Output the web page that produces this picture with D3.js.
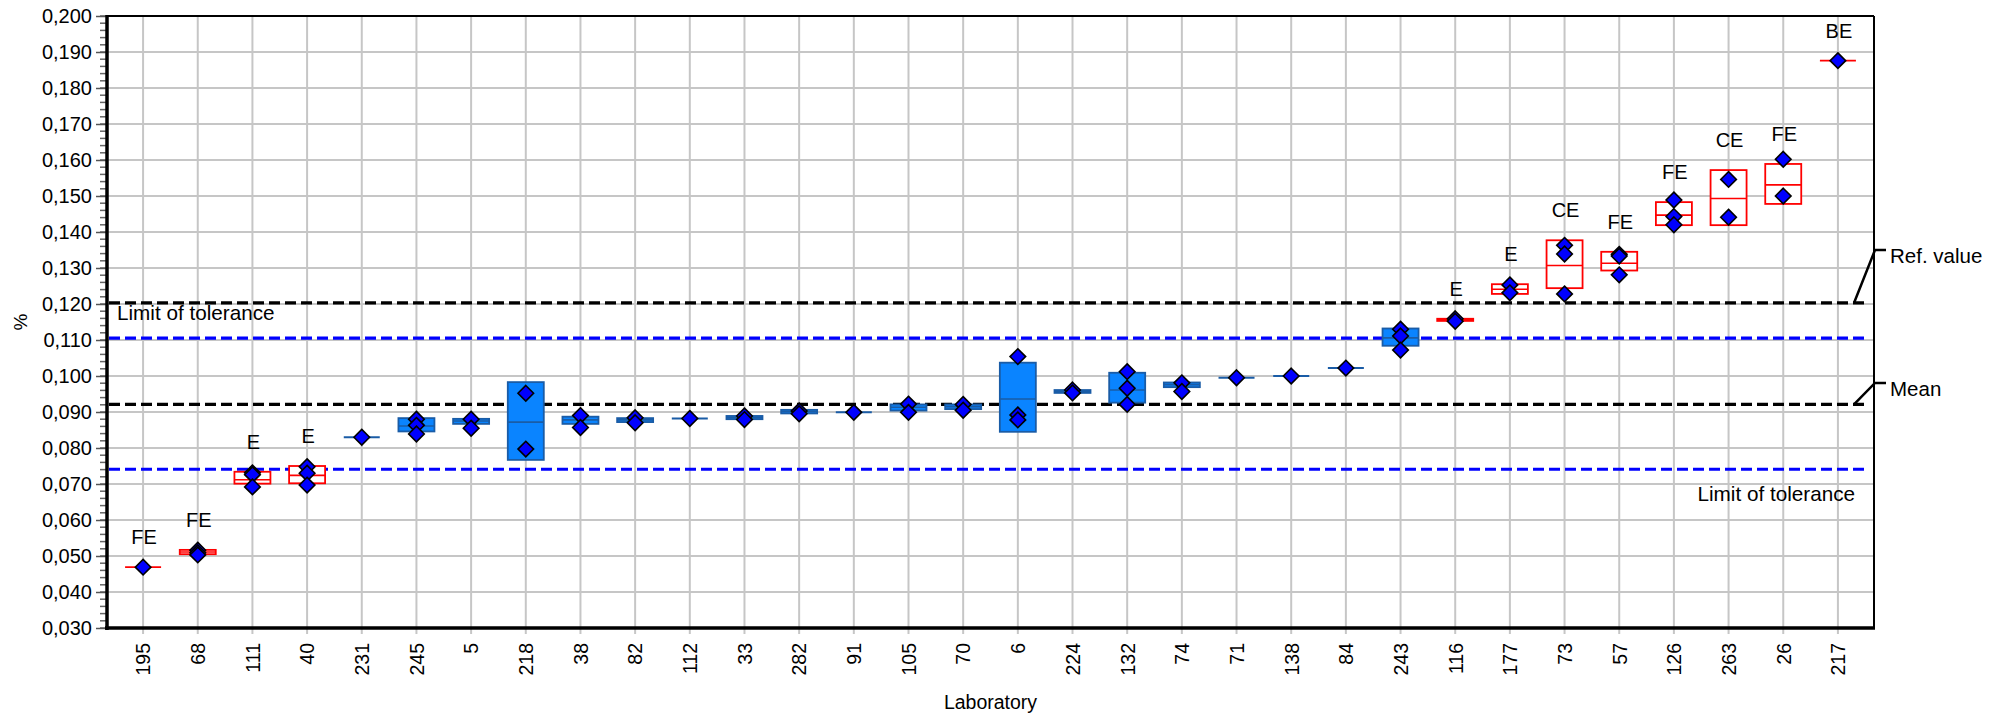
<!DOCTYPE html>
<html>
<head>
<meta charset="utf-8">
<script src="https://cdn.jsdelivr.net/npm/d3@7/dist/d3.min.js"></script>
<style>
  html, body { margin: 0; padding: 0; background: #fff; }
  svg text { font-family: "Liberation Sans", Arial, sans-serif; fill: #000; }
</style>
</head>
<body>
<svg id="chart" width="2006" height="714"></svg>
<script>
// ---------------- data ----------------
const labs = ["195","68","111","40","231","245","5","218","38","82","112","33","282","91","105","70","6","224","132","74","71","138","84","243","116","177","73","57","126","263","26","217"];
const flags = ["FE","FE","E","E","","","","","","","","","","","","","","","","","","","","","E","E","CE","FE","FE","CE","FE","BE"];
const values = [
  [0.0469],
  [0.0516,0.0509,0.0503],
  [0.0731,0.0726,0.0692],
  [0.0748,0.0730,0.0697],
  [0.0830],
  [0.0880,0.0863,0.0839],
  [0.0880,0.0855],
  [0.0952,0.0797],
  [0.0890,0.0857],
  [0.0884,0.0870],
  [0.0882],
  [0.0889,0.0879],
  [0.0903,0.0895],
  [0.0899],
  [0.0922,0.0899],
  [0.0921,0.0905],
  [0.1054,0.0892,0.0878],
  [0.0961,0.0953],
  [0.1012,0.0966,0.0921],
  [0.0981,0.0957],
  [0.0995],
  [0.1000],
  [0.1022],
  [0.1130,0.1111,0.1072],
  [0.1159,0.1152],
  [0.1253,0.1231],
  [0.1363,0.1339,0.1228],
  [0.1338,0.1333,0.1281],
  [0.1489,0.1443,0.1420],
  [0.1546,0.1441],
  [0.1602,0.1500],
  [0.1876]
];
const boxLow  = [0.0469,0.0505,0.0701,0.0702,0.0830,0.0846,0.0867,0.0767,0.0867,0.0872,0.0882,0.0880,0.0896,0.0899,0.0904,0.0908,0.0845,0.0953,0.0926,0.0969,0.0995,0.1000,0.1022,0.1084,0.1153,0.1228,0.1244,0.1293,0.1419,0.1419,0.1478,0.1876];
const boxHigh = [0.0469,0.0517,0.0734,0.0750,0.0830,0.0883,0.0881,0.0983,0.0887,0.0883,0.0882,0.0889,0.0906,0.0899,0.0921,0.0921,0.1037,0.0961,0.1009,0.0982,0.0995,0.1000,0.1022,0.1132,0.1159,0.1255,0.1377,0.1345,0.1483,0.1572,0.1589,0.1876];
const boxMid  = [0.0469,0.0511,0.0712,0.0724,0.0830,0.0861,0.0875,0.0872,0.0878,0.0878,0.0882,0.0884,0.0901,0.0899,0.0913,0.0915,0.0936,0.0957,0.0961,0.0976,0.0995,0.1000,0.1022,0.1106,0.1156,0.1241,0.1307,0.1313,0.1447,0.1493,0.1531,0.1876];

const refValue = 0.1203;
const meanValue = 0.0921;
const tolHigh = 0.1105;
const tolLow = 0.0741;

const yTicks = [0.030,0.040,0.050,0.060,0.070,0.080,0.090,0.100,0.110,0.120,0.130,0.140,0.150,0.160,0.170,0.180,0.190,0.200];

// ---------------- layout ----------------
const svg = d3.select("#chart");
const L = 107, R = 1874, T = 16, B = 628;

const x = d3.scalePoint().domain(labs).range([L, R]).padding(0.66);
const y = d3.scaleLinear().domain([0.030, 0.200]).range([B, T]);
const fmt = v => d3.format(".3f")(v).replace(".", ",");

svg.append("rect").attr("width", 2006).attr("height", 714).attr("fill", "#fff");

// grid
const grid = svg.append("g");
grid.selectAll("line.h").data(yTicks).join("line")
  .attr("x1", L).attr("x2", R).attr("y1", d => y(d)).attr("y2", d => y(d))
  .attr("stroke", "#c6c6c6").attr("stroke-width", 2);
grid.selectAll("line.v").data(labs).join("line")
  .attr("x1", d => x(d)).attr("x2", d => x(d)).attr("y1", T).attr("y2", B + 6)
  .attr("stroke", "#c6c6c6").attr("stroke-width", 2);

// y axis with minor ticks
const minor = d3.range(0.030, 0.2001, 0.002);
svg.append("g").selectAll("line").data(minor).join("line")
  .attr("x1", L - 7).attr("x2", L).attr("y1", d => y(d)).attr("y2", d => y(d))
  .attr("stroke", "#666").attr("stroke-width", 1.5);
const yAxis = d3.axisLeft(y).tickValues(yTicks).tickFormat(fmt).tickSize(11).tickPadding(4);
const ya = svg.append("g").attr("transform", `translate(${L},0)`).call(yAxis);
ya.select(".domain").remove();
ya.selectAll(".tick line").attr("stroke", "#555").attr("stroke-width", 1.5);
ya.selectAll(".tick text").attr("font-size", 20).attr("font-family", "Liberation Sans, Arial, sans-serif").attr("fill", "#000");

// x axis labels
const xAxis = d3.axisBottom(x).tickSize(0).tickPadding(0);
const xa = svg.append("g").attr("transform", `translate(0,${B})`).call(xAxis);
xa.select(".domain").remove();
xa.selectAll(".tick text")
  .attr("font-size", 19.5).attr("font-family", "Liberation Sans, Arial, sans-serif").attr("fill", "#000")
  .attr("transform", "rotate(-90)")
  .attr("text-anchor", "end").attr("x", -15).attr("y", 0).attr("dy", "0.35em");

// reference lines
const refLines = [
  {v: refValue, c: "#000"},
  {v: tolHigh, c: "#0000ff"},
  {v: meanValue, c: "#000"},
  {v: tolLow, c: "#0000ff"}
];
svg.append("g").selectAll("line").data(refLines).join("line")
  .attr("x1", L + 2).attr("x2", 1867).attr("y1", d => y(d.v)).attr("y2", d => y(d.v))
  .attr("stroke", d => d.c).attr("stroke-width", 3.2).attr("stroke-dasharray", "11,5");

// frame
svg.append("line").attr("x1", L).attr("x2", R).attr("y1", T).attr("y2", T).attr("stroke", "#000").attr("stroke-width", 2);
svg.append("line").attr("x1", R).attr("x2", R).attr("y1", T).attr("y2", B).attr("stroke", "#000").attr("stroke-width", 2);
svg.append("line").attr("x1", L).attr("x2", L).attr("y1", T - 1).attr("y2", B + 2).attr("stroke", "#000").attr("stroke-width", 3.5);
svg.append("line").attr("x1", L - 2).attr("x2", R + 1).attr("y1", B).attr("y2", B).attr("stroke", "#000").attr("stroke-width", 3.5);

// boxes
const rows = labs.map((lab, i) => ({lab, i, flag: flags[i], vals: values[i], lo: boxLow[i], hi: boxHigh[i], mid: boxMid[i]}));
const bw = 36;
const boxes = svg.append("g");
rows.forEach(r => {
  const red = r.flag !== "";
  const stroke = red ? "#ff0000" : "#1a5ca6";
  const fill = red ? "#ffffff" : "#0a84ff";
  const h = y(r.lo) - y(r.hi);
  if (h < 0.8) {
    boxes.append("line")
      .attr("x1", x(r.lab) - bw / 2).attr("x2", x(r.lab) + bw / 2)
      .attr("y1", y(r.mid)).attr("y2", y(r.mid))
      .attr("stroke", stroke).attr("stroke-width", red ? 1.8 : 2);
  } else {
    boxes.append("rect")
      .attr("x", x(r.lab) - bw / 2).attr("width", bw)
      .attr("y", y(r.hi)).attr("height", h)
      .attr("fill", fill).attr("stroke", stroke).attr("stroke-width", 1.8);
    boxes.append("line")
      .attr("x1", x(r.lab) - bw / 2).attr("x2", x(r.lab) + bw / 2)
      .attr("y1", y(r.mid)).attr("y2", y(r.mid))
      .attr("stroke", stroke).attr("stroke-width", 1.6);
  }
});

// diamonds
const pts = rows.flatMap(r => r.vals.map(v => ({lab: r.lab, v})));
const dsz = 7.8;
svg.append("g").selectAll("path").data(pts).join("path")
  .attr("d", d => {
    const cx = x(d.lab), cy = y(d.v);
    return `M${cx},${cy - dsz}L${cx + dsz},${cy}L${cx},${cy + dsz}L${cx - dsz},${cy}Z`;
  })
  .attr("fill", "#0000ff").attr("stroke", "#000").attr("stroke-width", 1.6);

// flag labels
svg.append("g").selectAll("text").data(rows.filter(r => r.flag !== "")).join("text")
  .attr("x", r => x(r.lab) + 1).attr("y", r => y(r.hi) - 23)
  .attr("text-anchor", "middle").attr("font-size", 20).text(r => r.flag);

// annotations
svg.append("text").attr("x", 117).attr("y", y(refValue) + 17).attr("font-size", 20.7).text("Limit of tolerance");
svg.append("text").attr("x", 1855).attr("y", y(tolLow) + 32).attr("text-anchor", "end").attr("font-size", 20.7).text("Limit of tolerance");

const leader = [
  {v: refValue, ty: 250, label: "Ref. value"},
  {v: meanValue, ty: 383, label: "Mean"}
];
leader.forEach(d => {
  svg.append("path")
    .attr("d", `M1854,${y(d.v)}L1875,${d.ty}L1886,${d.ty}`)
    .attr("fill", "none").attr("stroke", "#000").attr("stroke-width", 2.5);
  svg.append("text").attr("x", 1890).attr("y", d.ty + 13).attr("font-size", 20.5).text(d.label);
});

// axis titles
svg.append("text").attr("transform", "translate(27,322) rotate(-90)").attr("text-anchor", "middle").attr("font-size", 19).text("%");
svg.append("text").attr("x", (L + R) / 2).attr("y", 709).attr("text-anchor", "middle").attr("font-size", 19.5).text("Laboratory");
</script>
</body>
</html>
